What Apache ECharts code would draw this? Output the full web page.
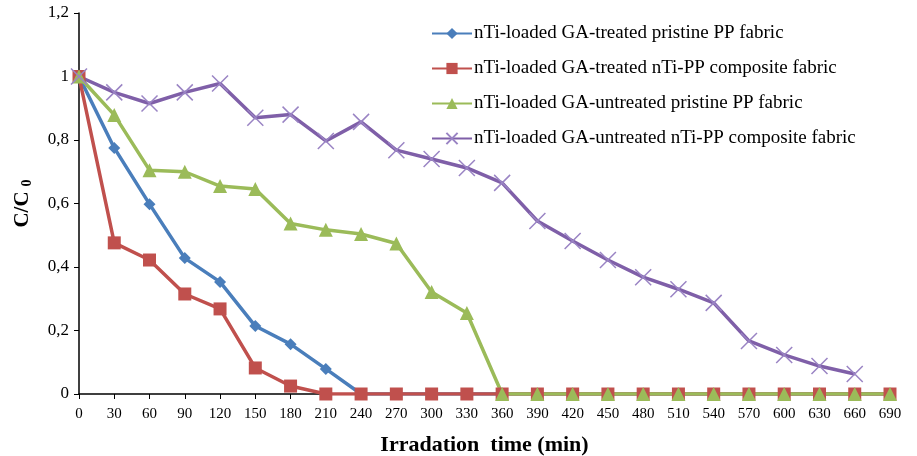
<!DOCTYPE html>
<html><head><meta charset="utf-8">
<script src="https://cdn.jsdelivr.net/npm/echarts@6/dist/echarts.min.js"></script>
<style>html,body{margin:0;padding:0;background:#fff}#c{width:917px;height:456px}</style>
</head><body><div id="c"></div>
<script>
var times = ['0','30','60','90','120','150','180','210','240','270','300','330','360','390','420','450','480','510','540','570','600','630','660','690'];
var seriesNames = [
  'nTi-loaded GA-treated pristine PP fabric',
  'nTi-loaded GA-treated nTi-PP composite fabric',
  'nTi-loaded GA-untreated pristine PP fabric',
  'nTi-loaded GA-untreated nTi-PP composite fabric'
];
var gaTreatedPristine = [1,0.775,0.598,0.428,0.353,0.214,0.157,0.079,0,0,0,0,0,0,0,0,0,0,0,0,0,0,0,0];
var gaTreatedComposite = [1,0.476,0.422,0.315,0.268,0.082,0.025,0,0,0,0,0,0,0,0,0,0,0,0,0,0,0,0,0];
var gaUntreatedPristine = [1,0.879,0.705,0.7,0.655,0.646,0.537,0.517,0.504,0.474,0.321,0.255,0,0,0,0,0,0,0,0,0,0,0,0];
var gaUntreatedComposite = [1,0.95,0.915,0.95,0.978,0.87,0.88,0.797,0.857,0.768,0.74,0.712,0.665,0.545,0.482,0.422,0.368,0.33,0.287,0.167,0.123,0.088,0.063,null];

var serif = '"Liberation Serif","DejaVu Serif",serif';
var chart = echarts.init(document.getElementById('c'));
var crossPath = 'path://M0,0L10,10M10,0L0,10';
chart.setOption({
  animation:false,
  backgroundColor:'#fff',
  grid:{left:79,right:27,top:13,bottom:62,containLabel:false,outerBoundsMode:'none'},
  legend:{
    orient:'vertical', left:426, top:19, itemWidth:40, itemHeight:14, itemGap:16,
    textStyle:{fontFamily:serif,fontSize:19,color:'#000',padding:[0,0,0,-3]},
    data:seriesNames
  },
  xAxis:{
    type:'category', data:times, boundaryGap:false,
    axisLine:{lineStyle:{color:'#000',width:1.5}},
    axisTick:{show:true,length:5,lineStyle:{color:'#000'}},
    axisLabel:{fontFamily:serif,fontSize:15,color:'#000',margin:13},
    name:'Irradation  time (min)', nameLocation:'middle', nameGap:40,
    nameTextStyle:{fontFamily:serif,fontSize:22,fontWeight:'bold',color:'#000'}
  },
  yAxis:{
    type:'value', min:0, max:1.2, interval:0.2,
    splitLine:{show:false},
    axisLine:{show:true,lineStyle:{color:'#000',width:1.5}},
    axisTick:{show:true,length:5,lineStyle:{color:'#000'}},
    axisLabel:{fontFamily:serif,fontSize:17,color:'#000',margin:10,
      formatter:function(v){return String(Math.round(v*10)/10).replace('.',',');}},
    name:'C/C{s|0}', nameLocation:'middle', nameGap:45, nameRotate:90,
    nameTextStyle:{fontFamily:serif,fontSize:21,fontWeight:'bold',color:'#000',
      rich:{s:{fontFamily:serif,fontSize:14,fontWeight:'bold',color:'#000',padding:[8,0,0,5]}}}
  },
  series:[
    {name:seriesNames[0],type:'line',data:gaTreatedPristine,symbol:'diamond',symbolSize:12,
      lineStyle:{color:'#4a7ebb',width:3.5},itemStyle:{color:'#4a7ebb'}},
    {name:seriesNames[1],type:'line',data:gaTreatedComposite,symbol:'rect',symbolSize:13,
      lineStyle:{color:'#c0504d',width:3.5},itemStyle:{color:'#c0504d'}},
    {name:seriesNames[2],type:'line',data:gaUntreatedPristine,symbol:'triangle',symbolSize:14,
      lineStyle:{color:'#9bbb59',width:3.5},itemStyle:{color:'#9bbb59'}},
    {name:seriesNames[3],type:'line',data:gaUntreatedComposite,symbol:crossPath,symbolSize:16,
      lineStyle:{color:'#7f5fa8',width:3.5},itemStyle:{color:'none',borderColor:'#9a84c4',borderWidth:1.5}}
  ]
});
</script></body></html>
